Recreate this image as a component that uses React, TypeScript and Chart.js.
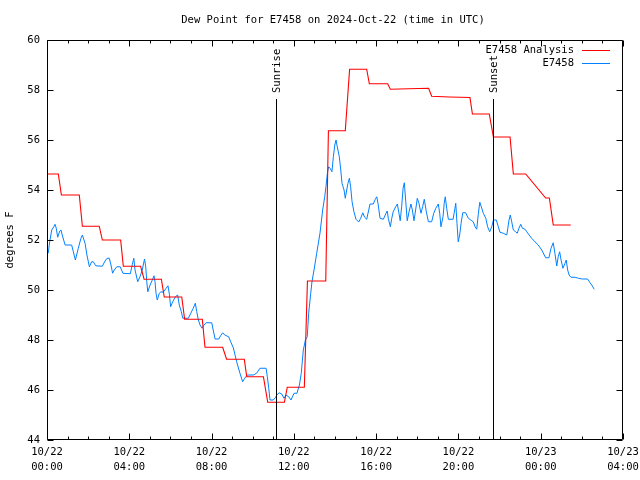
import { useEffect, useRef } from "react";
import { Chart, registerables } from "chart.js";

Chart.register(...registerables);

const TITLE = "Dew Point for E7458 on 2024-Oct-22 (time in UTC)";
const Y_LABEL = "degrees F";
const ANALYSIS_LABEL = "E7458 Analysis";
const OBS_LABEL = "E7458";
const SUNRISE_LABEL = "Sunrise";
const SUNSET_LABEL = "Sunset";
const SUNRISE_HOUR = 11.15;
const SUNSET_HOUR = 21.7;

const X_MIN = 0;
const X_MAX = 28;
const Y_MIN = 44;
const Y_MAX = 60;
const Y_STEP = 2;
const X_MAJOR_STEP = 4;

const X_TICK_LABELS: string[][] = [
  ["10/22", "00:00"],
  ["10/22", "04:00"],
  ["10/22", "08:00"],
  ["10/22", "12:00"],
  ["10/22", "16:00"],
  ["10/22", "20:00"],
  ["10/23", "00:00"],
  ["10/23", "04:00"],
];

// Analysis (hours since 10/22 00:00 UTC, degrees F)
const analysisHours = [
  0, 0.55, 0.7, 1.57, 1.72, 2.54, 2.69, 3.58, 3.71, 4.55, 4.72, 5.56, 5.7, 6.55,
  6.69, 7.55, 7.68, 8.54, 8.73, 9.59, 9.71, 10.52, 10.73, 11.54, 11.68, 12.51,
  12.66, 13.55, 13.68, 14.5, 14.71, 15.54, 15.67, 16.56, 16.69, 17.58, 18.55,
  18.7, 19.56, 20.56, 20.68, 21.5, 21.7, 22.51, 22.67, 23.27, 24.24, 24.42,
  24.61, 25.46,
];
const analysisValues = [
  54.64, 54.64, 53.8, 53.8, 52.55, 52.55, 52.0, 52.0, 50.95, 50.95, 50.43, 50.43,
  49.72, 49.72, 48.83, 48.83, 47.71, 47.71, 47.23, 47.23, 46.53, 46.53, 45.51,
  45.51, 46.11, 46.11, 50.36, 50.36, 56.37, 56.37, 58.83, 58.83, 58.25, 58.25,
  58.03, 58.05, 58.07, 57.75, 57.72, 57.7, 57.04, 57.04, 56.12, 56.12, 54.64,
  54.64, 53.68, 53.68, 52.6, 52.6,
];

// Observations (hours since 10/22 00:00 UTC, degrees F)
const obsHours = [
  0.06, 0.13, 0.23, 0.33, 0.39, 0.45, 0.52, 0.62, 0.68, 0.74, 0.88, 1.2, 1.28,
  1.38, 1.52, 1.65, 1.72, 1.85, 1.94, 2.06, 2.17, 2.25, 2.37, 2.69, 2.82, 2.92,
  3.03, 3.11, 3.19, 3.27, 3.39, 3.56, 3.69, 4.05, 4.15, 4.22, 4.28, 4.41, 4.52,
  4.63, 4.74, 4.8, 4.85, 4.9, 5.01, 5.14, 5.2, 5.25, 5.3, 5.36, 5.46, 5.54, 5.65,
  5.79, 5.88, 5.95, 6.01, 6.11, 6.24, 6.35, 6.43, 6.53, 6.6, 6.87, 6.99, 7.11,
  7.21, 7.28, 7.36, 7.44, 7.54, 7.63, 7.73, 8.01, 8.08, 8.17, 8.35, 8.44, 8.54,
  8.64, 8.83, 8.93, 9.06, 9.22, 9.38, 9.51, 9.61, 9.74, 10.03, 10.19, 10.35,
  10.65, 10.71, 10.78, 10.84, 11.0, 11.1, 11.17, 11.29, 11.41, 11.52, 11.62,
  11.75, 11.86, 12.01, 12.15, 12.27, 12.36, 12.46, 12.56, 12.65, 12.72, 12.82,
  12.88, 12.98, 13.11, 13.27, 13.4, 13.5, 13.56, 13.63, 13.69, 13.76, 13.85,
  13.92, 13.99, 14.05, 14.11, 14.21, 14.28, 14.34, 14.44, 14.5, 14.57, 14.63,
  14.7, 14.76, 14.83, 14.92, 15.02, 15.15, 15.25, 15.35, 15.44, 15.54, 15.64,
  15.7, 15.86, 15.96, 16.03, 16.09, 16.19, 16.35, 16.48, 16.54, 16.59, 16.69,
  16.76, 16.83, 16.95, 17.03, 17.11, 17.17, 17.24, 17.31, 17.37, 17.44, 17.51,
  17.6, 17.69, 17.76, 17.84, 17.92, 18.0, 18.08, 18.18, 18.26, 18.34, 18.44,
  18.54, 18.7, 18.8, 18.9, 19.02, 19.09, 19.15, 19.25, 19.31, 19.36, 19.43,
  19.51, 19.74, 19.83, 19.87, 19.93, 19.99, 20.06, 20.13, 20.21, 20.35, 20.48,
  20.65, 20.72, 20.81, 20.89, 20.97, 21.04, 21.1, 21.21, 21.33, 21.42, 21.52,
  21.62, 21.7, 21.84, 21.94, 22.02, 22.18, 22.35, 22.4, 22.46, 22.52, 22.59,
  22.67, 22.78, 22.86, 22.94, 23.03, 23.11, 23.24, 23.32, 23.4, 23.56, 23.72,
  23.88, 24.05, 24.24, 24.4, 24.5, 24.61, 24.69, 24.78, 24.85, 24.92, 24.99,
  25.08, 25.18, 25.24, 25.31, 25.38, 25.47, 25.67, 25.83, 26.02, 26.28, 26.4,
  26.51, 26.6,
];
const obsValues = [
  51.47, 51.93, 52.4, 52.53, 52.63, 52.47, 52.11, 52.36, 52.4, 52.2, 51.8, 51.8,
  51.53, 51.2, 51.67, 52.07, 52.2, 51.87, 51.4, 50.93, 51.13, 51.13, 50.97, 50.95,
  51.16, 51.27, 51.27, 51.0, 50.67, 50.8, 50.93, 50.93, 50.67, 50.65, 51.03,
  51.27, 50.8, 50.33, 50.53, 50.8, 51.24, 50.93, 50.33, 49.93, 50.2, 50.44, 50.57,
  50.33, 49.87, 49.6, 49.87, 49.93, 49.91, 50.07, 50.17, 49.83, 49.33, 49.53,
  49.73, 49.8, 49.4, 49.13, 48.87, 48.87, 49.07, 49.27, 49.47, 49.13, 48.8, 48.6,
  48.47, 48.6, 48.69, 48.69, 48.4, 48.04, 48.04, 48.17, 48.29, 48.2, 48.13, 47.93,
  47.68, 47.13, 46.67, 46.33, 46.47, 46.6, 46.6, 46.67, 46.87, 46.87, 46.53,
  46.07, 45.6, 45.6, 45.69, 45.8, 45.89, 45.84, 45.67, 45.8, 45.73, 45.6, 45.87,
  45.87, 46.2, 46.67, 47.6, 48.0, 48.13, 49.07, 49.87, 50.33, 50.8, 51.47, 52.27,
  53.2, 53.73, 54.13, 54.67, 54.93, 54.87, 54.73, 55.33, 55.8, 56.0, 55.73, 55.33,
  54.8, 54.27, 54.0, 53.67, 54.0, 54.27, 54.47, 54.13, 53.53, 53.13, 52.83, 52.72,
  52.87, 53.09, 52.91, 52.83, 53.2, 53.44, 53.44, 53.63, 53.73, 53.47, 52.87,
  52.83, 53.07, 53.16, 52.87, 52.53, 52.87, 53.13, 53.33, 53.44, 53.07, 52.77,
  53.33, 54.07, 54.29, 53.53, 52.77, 53.13, 53.44, 53.2, 52.77, 53.2, 53.67, 53.47,
  53.07, 53.33, 53.63, 53.13, 52.73, 52.73, 53.07, 53.27, 53.44, 53.07, 52.53,
  52.93, 53.47, 53.73, 53.27, 52.83, 52.83, 53.27, 53.47, 52.67, 51.93, 52.2,
  52.67, 53.09, 53.09, 52.87, 52.77, 52.73, 52.53, 52.43, 53.07, 53.51, 53.36,
  53.07, 52.87, 52.53, 52.33, 52.53, 52.8, 52.8, 52.53, 52.31, 52.27, 52.2, 52.47,
  52.8, 53.0, 52.73, 52.4, 52.33, 52.27, 52.47, 52.63, 52.47, 52.43, 52.33, 52.24,
  52.07, 51.93, 51.8, 51.6, 51.29, 51.29, 51.67, 51.89, 51.47, 50.96, 51.33,
  51.53, 51.2, 50.87, 51.07, 51.2, 50.8, 50.6, 50.51, 50.51, 50.47, 50.44, 50.44,
  50.29, 50.16, 50.03,
];

const FONT_FAMILY = "'DejaVu Sans Mono', 'Liberation Mono', monospace";
const FONT_SIZE = 10.5;
const ANALYSIS_COLOR = "#ff0000";
const OBS_COLOR = "#0080ff";

const decorPlugin = {
  id: "decor",
  afterDraw(chart: any) {
    const { ctx, chartArea } = chart;
    const xs = chart.scales.x;
    const ys = chart.scales.y;
    const L = Math.round(chartArea.left) + 0.5;
    const R = Math.round(chartArea.right) - 0.5;
    const T = Math.round(chartArea.top) + 0.5;
    const B = Math.round(chartArea.bottom) - 0.5;
    ctx.save();
    ctx.strokeStyle = "#000";
    ctx.lineWidth = 1;
    ctx.beginPath();
    ctx.rect(L, T, R - L, B - T);
    for (let v = Y_MIN; v <= Y_MAX; v += Y_STEP) {
      const py = Math.round(ys.getPixelForValue(v)) + 0.5;
      ctx.moveTo(L, py);
      ctx.lineTo(L + 6, py);
      ctx.moveTo(R, py);
      ctx.lineTo(R - 6, py);
    }
    for (let h = X_MIN; h <= X_MAX; h += 1) {
      const px = Math.round(xs.getPixelForValue(h)) + 0.5;
      const len = h % X_MAJOR_STEP === 0 ? 6 : 3;
      ctx.moveTo(px, B);
      ctx.lineTo(px, B - len);
      ctx.moveTo(px, T);
      ctx.lineTo(px, T + len);
    }
    ctx.stroke();

    const font = `${FONT_SIZE}px ${FONT_FAMILY}`;
    ctx.font = font;
    ctx.fillStyle = "#000";
    const marks: [number, string][] = [
      [SUNRISE_HOUR, SUNRISE_LABEL],
      [SUNSET_HOUR, SUNSET_LABEL],
    ];
    for (const [h, label] of marks) {
      const px = Math.round(xs.getPixelForValue(h)) + 0.5;
      ctx.beginPath();
      ctx.moveTo(px, 99);
      ctx.lineTo(px, B);
      ctx.stroke();
      ctx.save();
      ctx.translate(px + 1, 93);
      ctx.rotate(-Math.PI / 2);
      ctx.textAlign = "left";
      ctx.textBaseline = "middle";
      ctx.fillText(label, 0, 0);
      ctx.restore();
    }

    const legend: [string, string, number][] = [
      [ANALYSIS_LABEL, ANALYSIS_COLOR, 50],
      [OBS_LABEL, OBS_COLOR, 63],
    ];
    for (const [label, color, y] of legend) {
      ctx.textAlign = "right";
      ctx.textBaseline = "middle";
      ctx.fillStyle = "#000";
      ctx.fillText(label, 574, y);
      ctx.strokeStyle = color;
      ctx.beginPath();
      ctx.moveTo(582, y + 0.5);
      ctx.lineTo(610, y + 0.5);
      ctx.stroke();
    }

    ctx.fillStyle = "#000";
    ctx.textAlign = "center";
    ctx.textBaseline = "middle";
    ctx.fillText(TITLE, 333, 20);

    ctx.save();
    ctx.translate(10, 240);
    ctx.rotate(-Math.PI / 2);
    ctx.textAlign = "center";
    ctx.textBaseline = "middle";
    ctx.fillText(Y_LABEL, 0, 0);
    ctx.restore();

    ctx.restore();
  },
};

export default function App() {
  const canvasRef = useRef<HTMLCanvasElement | null>(null);

  useEffect(() => {
    const canvas = canvasRef.current;
    if (!canvas) return;
    const tickFont = { family: FONT_FAMILY, size: FONT_SIZE, lineHeight: 1.4 };
    const chart = new Chart(canvas, {
      type: "line",
      data: {
        datasets: [
          {
            label: ANALYSIS_LABEL,
            data: analysisHours.map((h, i) => ({ x: h, y: analysisValues[i] })),
            borderColor: ANALYSIS_COLOR,
            backgroundColor: ANALYSIS_COLOR,
            borderWidth: 1.1,
            pointRadius: 0,
            tension: 0,
            fill: false,
          },
          {
            label: OBS_LABEL,
            data: obsHours.map((h, i) => ({ x: h, y: obsValues[i] })),
            borderColor: OBS_COLOR,
            backgroundColor: OBS_COLOR,
            borderWidth: 1,
            pointRadius: 0,
            tension: 0,
            fill: false,
          },
        ],
      },
      options: {
        responsive: false,
        animation: false,
        devicePixelRatio: 1,
        layout: { padding: { top: 40, right: 17, left: 0, bottom: 0 } },
        plugins: {
          legend: { display: false },
          title: { display: false },
          tooltip: { enabled: false },
        },
        scales: {
          x: {
            type: "linear",
            min: X_MIN,
            max: X_MAX,
            grid: { display: false, drawTicks: false },
            border: { display: false },
            ticks: {
              stepSize: X_MAJOR_STEP,
              autoSkip: false,
              maxRotation: 0,
              padding: 5,
              color: "#000",
              font: tickFont,
              callback: (v: any) => X_TICK_LABELS[Math.round(Number(v) / X_MAJOR_STEP)] ?? "",
            },
            afterFit: (s: any) => {
              s.height = 40;
              s.paddingLeft = 0;
              s.paddingRight = 0;
            },
          },
          y: {
            min: Y_MIN,
            max: Y_MAX,
            grid: { display: false, drawTicks: false },
            border: { display: false },
            ticks: {
              stepSize: Y_STEP,
              padding: 7,
              color: "#000",
              font: tickFont,
            },
            afterFit: (s: any) => {
              s.width = 47;
              s.paddingTop = 0;
              s.paddingBottom = 0;
            },
          },
        },
      },
      plugins: [decorPlugin],
    });
    return () => chart.destroy();
  }, []);

  return (
    <div style={{ position: "fixed", left: 0, top: 0, width: 640, height: 480, background: "#fff" }}>
      <canvas ref={canvasRef} width={640} height={480} style={{ width: 640, height: 480 }} />
    </div>
  );
}
